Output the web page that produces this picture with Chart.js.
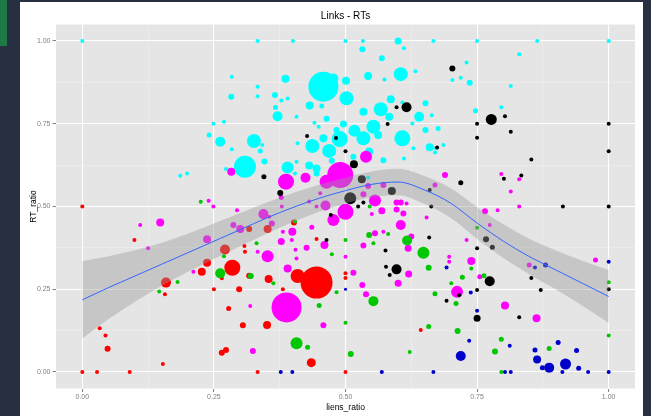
<!DOCTYPE html>
<html><head><meta charset="utf-8">
<script src="https://cdn.jsdelivr.net/npm/chart.js@4/dist/chart.umd.min.js"></script>
<style>html,body{margin:0;padding:0;background:#273040;overflow:hidden}canvas{display:block}</style>
</head><body>
<canvas id="c" width="651" height="416"></canvas>
<script>
// ---- data ----
const chartTitle = "Links - RTs";
const xTitle = "liens_ratio";
const yTitle = "RT_ratio";
const tickValues = [0, 0.25, 0.5, 0.75, 1];
const tickLabels = ["0.00", "0.25", "0.50", "0.75", "1.00"];
const minorValues = [0.125, 0.375, 0.625, 0.875];

// points: [x, y, size]
const cyanPts = [
 [0,1,2],[0.333,1,2],[0.4,1,2],[0.5,1,2],[0.533,1,2],[0.6,1,3.5],[0.667,1,2],[0.75,1,2],[0.864,1,2],[1,1,2],
 [0.532,0.975,3],[0.611,0.978,2],[0.569,0.948,3],[0.730,0.935,2],[0.830,0.960,2],[0.605,0.900,7],[0.633,0.909,2],
 [0.574,0.884,2],[0.543,0.894,4],[0.501,0.880,4],[0.477,0.887,5],[0.458,0.862,15],[0.386,0.886,4],[0.284,0.892,2],
 [0.333,0.862,2],[0.333,0.833,2],[0.283,0.832,3],[0.502,0.827,7],[0.586,0.824,4],[0.534,0.786,4],[0.567,0.794,7],
 [0.583,0.771,4],[0.608,0.814,2],[0.652,0.812,3],[0.640,0.771,5],[0.664,0.776,2],[0.627,0.751,2],[0.703,0.882,2],
 [0.719,0.889,2],[0.736,0.874,3],[0.814,0.864,2],[0.747,0.789,2.5],[0.796,0.800,2],[0.432,0.805,4],[0.455,0.804,2.5],
 [0.366,0.837,3],[0.378,0.820,2],[0.390,0.826,2],[0.367,0.799,2.5],[0.371,0.773,5],[0.407,0.771,2],[0.464,0.765,3],
 [0.441,0.753,2],[0.449,0.741,2],[0.496,0.749,3.5],[0.483,0.731,3],[0.517,0.729,6],[0.553,0.741,7],[0.534,0.706,7],
 [0.562,0.716,4],[0.489,0.704,8],[0.608,0.706,8],[0.652,0.731,3],[0.676,0.736,2.5],[0.629,0.676,2],[0.660,0.679,4],
 [0.672,0.676,2],[0.670,0.663,2],[0.686,0.686,2],[0.611,0.645,2],[0.572,0.640,3],[0.545,0.666,4],[0.543,0.588,2],
 [0.249,0.75,2],[0.269,0.756,2],[0.241,0.716,2.5],[0.262,0.696,5],[0.326,0.698,7],[0.342,0.686,2],[0.284,0.673,2],
 [0.338,0.668,2.5],[0.346,0.636,3],[0.309,0.620,11],[0.273,0.613,2],[0.186,0.593,2],[0.199,0.600,2],[0.390,0.618,6],
 [0.407,0.635,2],[0.431,0.624,4],[0.437,0.683,7],[0.409,0.691,2],[0.458,0.706,4],[0.469,0.668,7],[0.445,0.615,4],
 [0.445,0.600,3],[0.474,0.638,3],[0.515,0.650,3],[0.404,0.600,2]
];
const magentaPts = [
 [0.283,0.605,4],[0.387,0.575,8],[0.424,0.587,5],[0.490,0.595,13],[0.464,0.575,7],[0.378,0.527,2.5],[0.344,0.477,5],
 [0.452,0.540,2],[0.240,0.517,2],[0.249,0.5,2],[0.294,0.489,2],[0.5,0.484,8],[0.379,0.5,2],[0.539,0.650,6],
 [0.543,0.562,3],[0.572,0.565,3],[0.534,0.537,3],[0.556,0.518,6],[0.569,0.487,3.5],[0.597,0.512,3],[0.605,0.512,3],
 [0.616,0.509,2],[0.610,0.479,3],[0.597,0.491,3],[0.670,0.565,2.5],[0.689,0.595,3],[0.796,0.598,2],[0.830,0.582,2],
 [0.814,0.545,2],[0.830,0.5,2],[0.765,0.486,3],[0.789,0.489,2],[0.355,0.469,2],[0.360,0.449,3],[0.431,0.515,2],
 [0.462,0.503,5],[0.445,0.5,2],[0.477,0.459,6],[0.515,0.300,3],[0.110,0.444,2],[0.148,0.452,4],[0.125,0.374,2],
 [0.237,0.401,4],[0.287,0.444,3],[0.300,0.432,4],[0.399,0.424,4],[0.381,0.424,2],[0.436,0.437,2.5],[0.460,0.384,4],
 [0.378,0.394,3.5],[0.398,0.399,2],[0.405,0.369,2],[0.426,0.375,3],[0.407,0.343,2],[0.5,0.348,2],[0.333,0.363,2],
 [0.211,0.303,2],[0.352,0.350,6],[0.390,0.313,4],[0.388,0.195,15],[0.319,0.199,2],[0.458,0.141,3],[0.324,0.063,3],
 [0.550,0.477,2],[0.654,0.467,2],[0.605,0.444,5],[0.556,0.419,3],[0.572,0.424,2],[0.625,0.409,3],[0.619,0.374,3.5],
 [0.534,0.382,3],[0.620,0.296,3.5],[0.600,0.268,3.5],[0.532,0.263,3],[0.539,0.235,3],[0.712,0.242,6],[0.697,0.348,2],
 [0.697,0.333,2],[0.739,0.335,4],[0.730,0.399,2],[0.774,0.444,2],[0.755,0.288,2.5],[0.803,0.201,4],[0.863,0.162,4],
 [0.849,0.323,2.5],[0.975,0.338,2.5]
];
const redPts = [
 [0,0.5,2],[0.099,0.399,2],[0.317,0.432,3],[0.352,0.432,4],[0.402,0.452,3],[0.445,0.402,2],[0.271,0.370,5],
 [0.308,0.381,2],[0.309,0.363,2],[0.237,0.330,4],[0.227,0.303,4],[0.285,0.315,8],[0.265,0.283,2],[0.317,0.291,3],
 [0.354,0.281,4],[0.409,0.290,7],[0.445,0.270,16],[0.381,0.25,2],[0.298,0.25,3],[0.25,0.25,2],[0.159,0.270,5],
 [0.157,0.235,2],[0.5,0.298,2],[0.5,0.284,2],[0.278,0.192,2.5],[0.305,0.141,3],[0.351,0.142,4],[0.033,0.132,2],
 [0.044,0.110,2],[0.048,0.070,3],[0.153,0.024,2],[0.265,0.058,3],[0.273,0.066,3],[0.435,0.028,4.5],[0.643,0.127,2],
 [0,0,2],[0.028,0,2],[0.090,0,2],[0.333,0,2],[0.5,0,2]
];
const greenPts = [
 [0.225,0.514,2],[0.404,0.455,2],[0.5,0.399,2],[0.474,0.356,2],[0.331,0.389,2],[0.269,0.350,2],[0.262,0.298,5],
 [0.320,0.290,3],[0.363,0.268,2],[0.181,0.272,2],[0.146,0.243,2],[0.450,0.201,2.5],[0.483,0.241,2],[0.5,0.149,2],
 [0.407,0.087,6],[0.428,0.075,2.5],[0.510,0.054,3],[0.546,0.5,2],[0.545,0.414,3],[0.581,0.417,2],[0.617,0.397,5],
 [0.648,0.360,6],[0.553,0.389,2],[0.658,0.315,3],[0.553,0.214,5],[0.670,0.236,2.5],[0.710,0.207,2.5],[0.701,0.268,2],
 [0.722,0.286,2.5],[0.739,0.313,2],[0.75,0.436,2],[0.763,0.291,2.5],[0.713,0.124,3],[0.658,0.137,2.5],[0.622,0.060,2],
 [0.796,0.099,2.5],[0.784,0.062,3],[1,0.271,2],[1,0.110,2],[0.887,0.071,2.5],[0.796,0,2]
];
const bluePts = [
 [0.5,0.25,1.5],[0.692,0.316,2],[0.738,0.240,2],[0.75,0.185,2],[0.719,0.048,5],[0.735,0.094,2],[0.812,0.079,2],
 [0.860,0.316,2],[0.880,0.323,2.5],[1,0.333,2],[0.860,0.066,2.5],[0.864,0.038,4],[0.904,0.089,2.5],[0.939,0.065,2.5],
 [0.874,0.013,2.5],[0.887,0.013,5],[0.918,0.024,5.5],[0.943,0.011,2.5],
 [0.377,0,2],[0.399,0,2],[0.569,0,2],[0.667,0,2],[0.803,0,2],[0.814,0,2],[0.912,0,2],[0.961,0,2],[1,0,2]
];
const blackPts = [
 [0.427,0.713,2],[0.482,0.707,2],[0.5,0.667,2],[0.516,0.628,4],[0.345,0.590,2.5],[0.376,0.541,3],[0.509,0.525,6],
 [0.616,0.800,5],[0.597,0.800,2],[0.580,0.749,2],[0.674,0.678,2],[0.531,0.582,4],[0.588,0.547,4],[0.534,0.512,2],
 [0.524,0.5,2],[0.660,0.550,2],[0.663,0.5,2],[0.719,0.572,2.5],[0.703,0.917,3],[0.777,0.763,5.5],[0.803,0.773,2],
 [0.75,0.75,2],[0.75,0.708,2],[0.814,0.726,2],[0.853,0.642,2],[1,0.75,2],[1,0.667,2],[0.801,0.584,2],[0.834,0.594,2],
 [0.913,0.5,2],[1,0.5,2],[0.472,0.474,2],[0.464,0.399,2],[0.659,0.406,2],[0.576,0.367,2],[0.597,0.310,5],
 [0.577,0.318,2],[0.584,0.293,2],[0.716,0.232,2],[0.692,0.215,2],[0.75,0.374,2],[0.767,0.401,3],[0.779,0.377,2.5],
 [0.774,0.274,5],[0.75,0.248,2],[0.75,0.162,3.5],[0.830,0.165,2],[0.853,0.284,2],[0.871,0.248,2],[1,0.25,2]
];
// loess smooth with confidence band
const smoothX  = [0,0.05,0.10,0.15,0.20,0.25,0.30,0.35,0.40,0.45,0.50,0.55,0.60,0.65,0.70,0.75,0.80,0.85,0.90,0.95,1.00];
const smoothY  = [0.218,0.255,0.290,0.325,0.360,0.395,0.430,0.465,0.497,0.525,0.548,0.567,0.574,0.550,0.510,0.450,0.395,0.348,0.308,0.268,0.228];
const smoothLo = [0.101,0.160,0.212,0.260,0.302,0.341,0.380,0.418,0.453,0.484,0.509,0.528,0.534,0.508,0.465,0.402,0.344,0.294,0.249,0.200,0.148];
const smoothHi = [0.335,0.350,0.368,0.390,0.418,0.449,0.480,0.512,0.541,0.566,0.587,0.606,0.614,0.592,0.555,0.498,0.446,0.402,0.367,0.336,0.308];

// ---- chart ----
const FONT = "'Liberation Sans', Arial, Helvetica, sans-serif";
Chart.defaults.font.family = FONT;
const gridVals = tickValues.concat(minorValues).sort((a,b)=>a-b);
const isMajor = v => tickValues.some(t => Math.abs(t - v) < 1e-6);
const labelOf = v => { const i = tickValues.findIndex(t => Math.abs(t - v) < 1e-6); return i >= 0 ? tickLabels[i] : ''; };

const bubbleSet = (pts, color, order) => ({
  type: 'bubble', xAxisID: 'x', yAxisID: 'y', order,
  data: pts.map(p => ({x: p[0], y: p[1], r: p[2]})),
  backgroundColor: color, borderWidth: 0, hoverRadius: 0
});
const lineSet = (ys, extra) => Object.assign({
  type: 'line', xAxisID: 'x', yAxisID: 'y',
  data: smoothX.map((x, i) => ({x, y: ys[i]})),
  pointRadius: 0, cubicInterpolationMode: 'monotone', fill: false
}, extra);

const bg = {
  id: 'bg',
  beforeDraw(chart) {
    const {ctx, chartArea: a} = chart;
    ctx.save();
    ctx.fillStyle = '#273040'; ctx.fillRect(0, 0, 651, 416);
    ctx.fillStyle = '#1e7a45'; ctx.fillRect(0, 0, 7, 46);
    ctx.fillStyle = '#ffffff'; ctx.fillRect(20, 2, 623, 414);
    ctx.fillStyle = '#e5e5e5'; ctx.fillRect(a.left, a.top, a.right - a.left, a.bottom - a.top);
    ctx.restore();
  }
};

const gridOpts = {
  color: c => isMajor(c.tick.value) ? '#ffffff' : '#f2f2f2',
  lineWidth: c => isMajor(c.tick.value) ? 1.1 : 0.5,
  tickColor: c => isMajor(c.tick.value) ? '#7f7f7f' : 'rgba(0,0,0,0)',
  tickLength: 3.5, tickWidth: 1
};

new Chart(document.getElementById('c'), {
  type: 'bubble',
  data: {
    datasets: [
      lineSet(smoothY, {borderColor: '#3366ff', borderWidth: 1, order: 0}),
      lineSet(smoothLo, {borderColor: 'rgba(0,0,0,0)', borderWidth: 0, order: 2}),
      lineSet(smoothHi, {borderColor: 'rgba(0,0,0,0)', borderWidth: 0, order: 1, fill: '-1', backgroundColor: 'rgba(153,153,153,0.4)'}),
      bubbleSet(blackPts, '#000000', 3),
      bubbleSet(bluePts, '#0000cd', 4),
      bubbleSet(greenPts, '#00c800', 5),
      bubbleSet(redPts, '#ff0000', 6),
      bubbleSet(magentaPts, '#ff00ff', 7),
      bubbleSet(cyanPts, '#00ffff', 8)
    ]
  },
  options: {
    responsive: false, animation: false, devicePixelRatio: 1, events: [],
    layout: {padding: {left: 20, right: 16, top: 0, bottom: 0}},
    plugins: {legend: {display: false}, tooltip: {enabled: false}, title: {display: false}},
    scales: {
      x: {
        type: 'linear', position: 'bottom', min: -0.05, max: 1.05,
        afterBuildTicks: s => { s.ticks = gridVals.map(v => ({value: v})); },
        afterFit: s => { s.height = 27.5; },
        ticks: {callback: v => labelOf(v), color: '#7f7f7f', font: {size: 7}, padding: 0.5, autoSkip: false, maxRotation: 0, minRotation: 0},
        grid: gridOpts, border: {display: false},
        title: {display: true, text: xTitle, color: '#000000', font: {size: 8.5}, padding: {top: 0, bottom: 3.6}}
      },
      xt: {
        type: 'linear', position: 'top', min: -0.05, max: 1.05,
        afterFit: s => { s.height = 24.5; },
        ticks: {display: false}, grid: {display: false, drawTicks: false}, border: {display: false},
        title: {display: true, text: chartTitle, color: '#000000', font: {size: 10}, padding: {top: 10.5, bottom: 0}}
      },
      y: {
        type: 'linear', position: 'left', min: -0.05, max: 1.05,
        afterBuildTicks: s => { s.ticks = gridVals.map(v => ({value: v})); },
        afterFit: s => { s.width = 36; },
        ticks: {callback: v => labelOf(v), color: '#7f7f7f', font: {size: 7}, padding: 2, autoSkip: false},
        grid: gridOpts, border: {display: false},
        title: {display: true, text: yTitle, color: '#000000', font: {size: 8.5}, padding: {top: 8.6, bottom: 0}}
      }
    }
  },
  plugins: [bg]
});
</script>
</body></html>
